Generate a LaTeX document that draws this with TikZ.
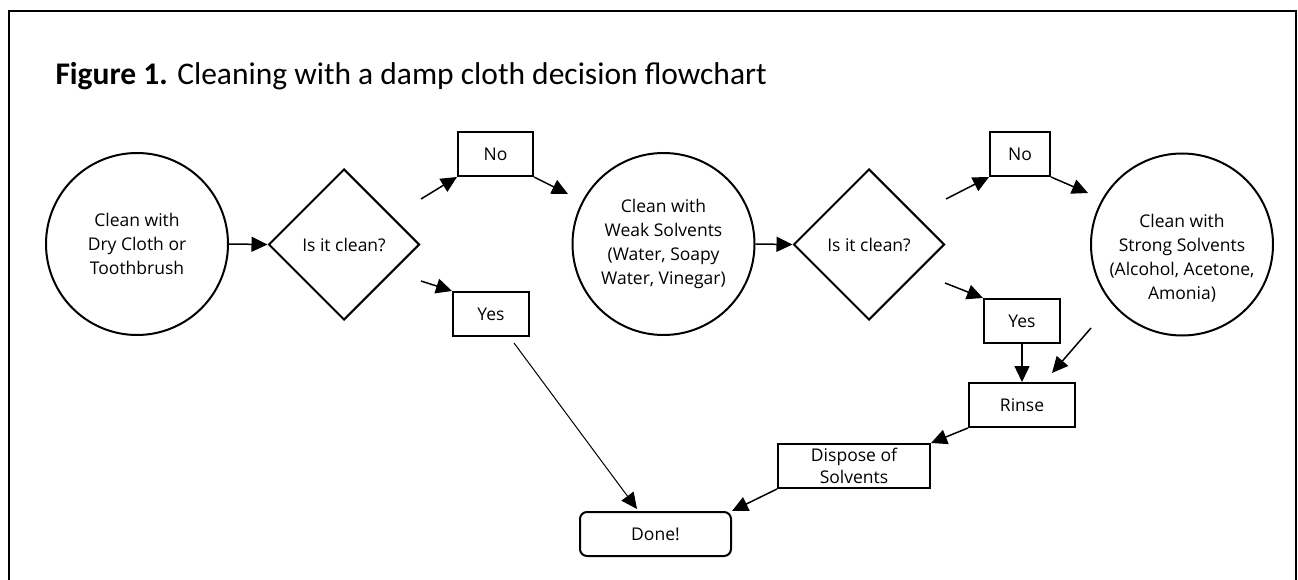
\documentclass[tikz,border=0pt]{standalone}
\usepackage{fontspec}
\setmainfont{Open Sans}
\newfontfamily\titlefont{Carlito}
\usetikzlibrary{arrows.meta,calc,shapes.geometric}

\begin{document}
\begin{tikzpicture}[x=1pt,y=-1pt,
	font=\fontsize{17.5}{24}\selectfont,
	blob/.style={circle, draw, line width=2pt, minimum size=182pt, inner sep=0pt, align=center},
	ask/.style={diamond, draw, line width=2pt, minimum width=151pt, minimum height=151pt, inner sep=0pt},
	answer/.style={rectangle, draw, line width=2pt, minimum height=44pt, inner sep=2pt, align=center},
	go/.style={-{Triangle[length=16pt,width=15pt]}, line width=1.5pt}]
	\useasboundingbox (0,0) rectangle (1298,580);
	\draw [line width=2.2pt] (9,580) -- (9,11) -- (1296,11) -- (1296,580);
	\node [anchor=base west, font=\titlefont\fontsize{31.5}{36}\selectfont] (title) at (52,85) {\textbf{Figure 1.} Cleaning with a damp cloth decision flowchart};
	
	\node [blob] (dry) at (137,244) {Clean with\\Dry Cloth or\\Toothbrush};
	\node [ask] (ask1) at (344,244.5) {Is it clean?};
	\node [answer, minimum width=75pt] (no1) at (495.5,154) {No};
	\node [answer, minimum width=76pt] (yes1) at (491,314) {Yes};
	\node [blob] (weak) at (663.5,244) {Clean with\\Weak Solvents\\(Water, Soapy\\Water, Vinegar)};
	\node [ask] (ask2) at (869,244.5) {Is it clean?};
	\node [answer, minimum width=60pt] (no2) at (1020,154) {No};
	\node [answer, minimum width=76pt] (yes2) at (1022,321) {Yes};
	\node [blob] (strong) at (1182,244.5) {};
	\node [align=center] (strongtext) at (1182,258.5) {Clean with\\Strong Solvents\\(Alcohol, Acetone,\\Amonia)};
	\node [answer, minimum width=106pt] (rinse) at (1022,405) {Rinse};
	\node [answer, minimum width=152pt, font=\fontsize{17.5}{22}\selectfont, inner sep=0pt] (dispose) at (854,466) {Dispose of\\Solvents};
	\node [answer, minimum width=151pt, rounded corners=7pt] (done) at (655.5,534) {Done!};
	
	\coordinate (ask1up) at (421,199);
	\coordinate (ask1down) at (421,281);
	\coordinate (no1end) at (568,194);
	\coordinate (yes1start) at (514,343);
	\coordinate (yes1end) at (637,509);
	\coordinate (ask2up) at (946,199);
	\coordinate (ask2down) at (945,283);
	\coordinate (no2end) at (1088,193);
	\coordinate (strongstart) at (1091,328);
	\coordinate (strongend) at (1052,373);
	
	\draw [go] (dry.east) -- (ask1.west);
	\draw [go] (ask1up) -- (no1.south west);
	\draw [go] (no1.south east) -- (no1end);
	\draw [go] (ask1down) -- (yes1.north west);
	\draw [go, line width=1pt] (yes1start) -- (yes1end);
	\draw [go] (weak.east) -- (ask2.west);
	\draw [go] (ask2up) -- (no2.south west);
	\draw [go] (no2.south east) -- (no2end);
	\draw [go] (ask2down) -- (yes2.north west);
	\draw [go] (yes2.south) -- (rinse.north);
	\draw [go] (strongstart) -- (strongend);
	\draw [go] (rinse.south west) -- (dispose.north east);
	\draw [go] (dispose.south west) -- (done.north east);
\end{tikzpicture}
\end{document}
